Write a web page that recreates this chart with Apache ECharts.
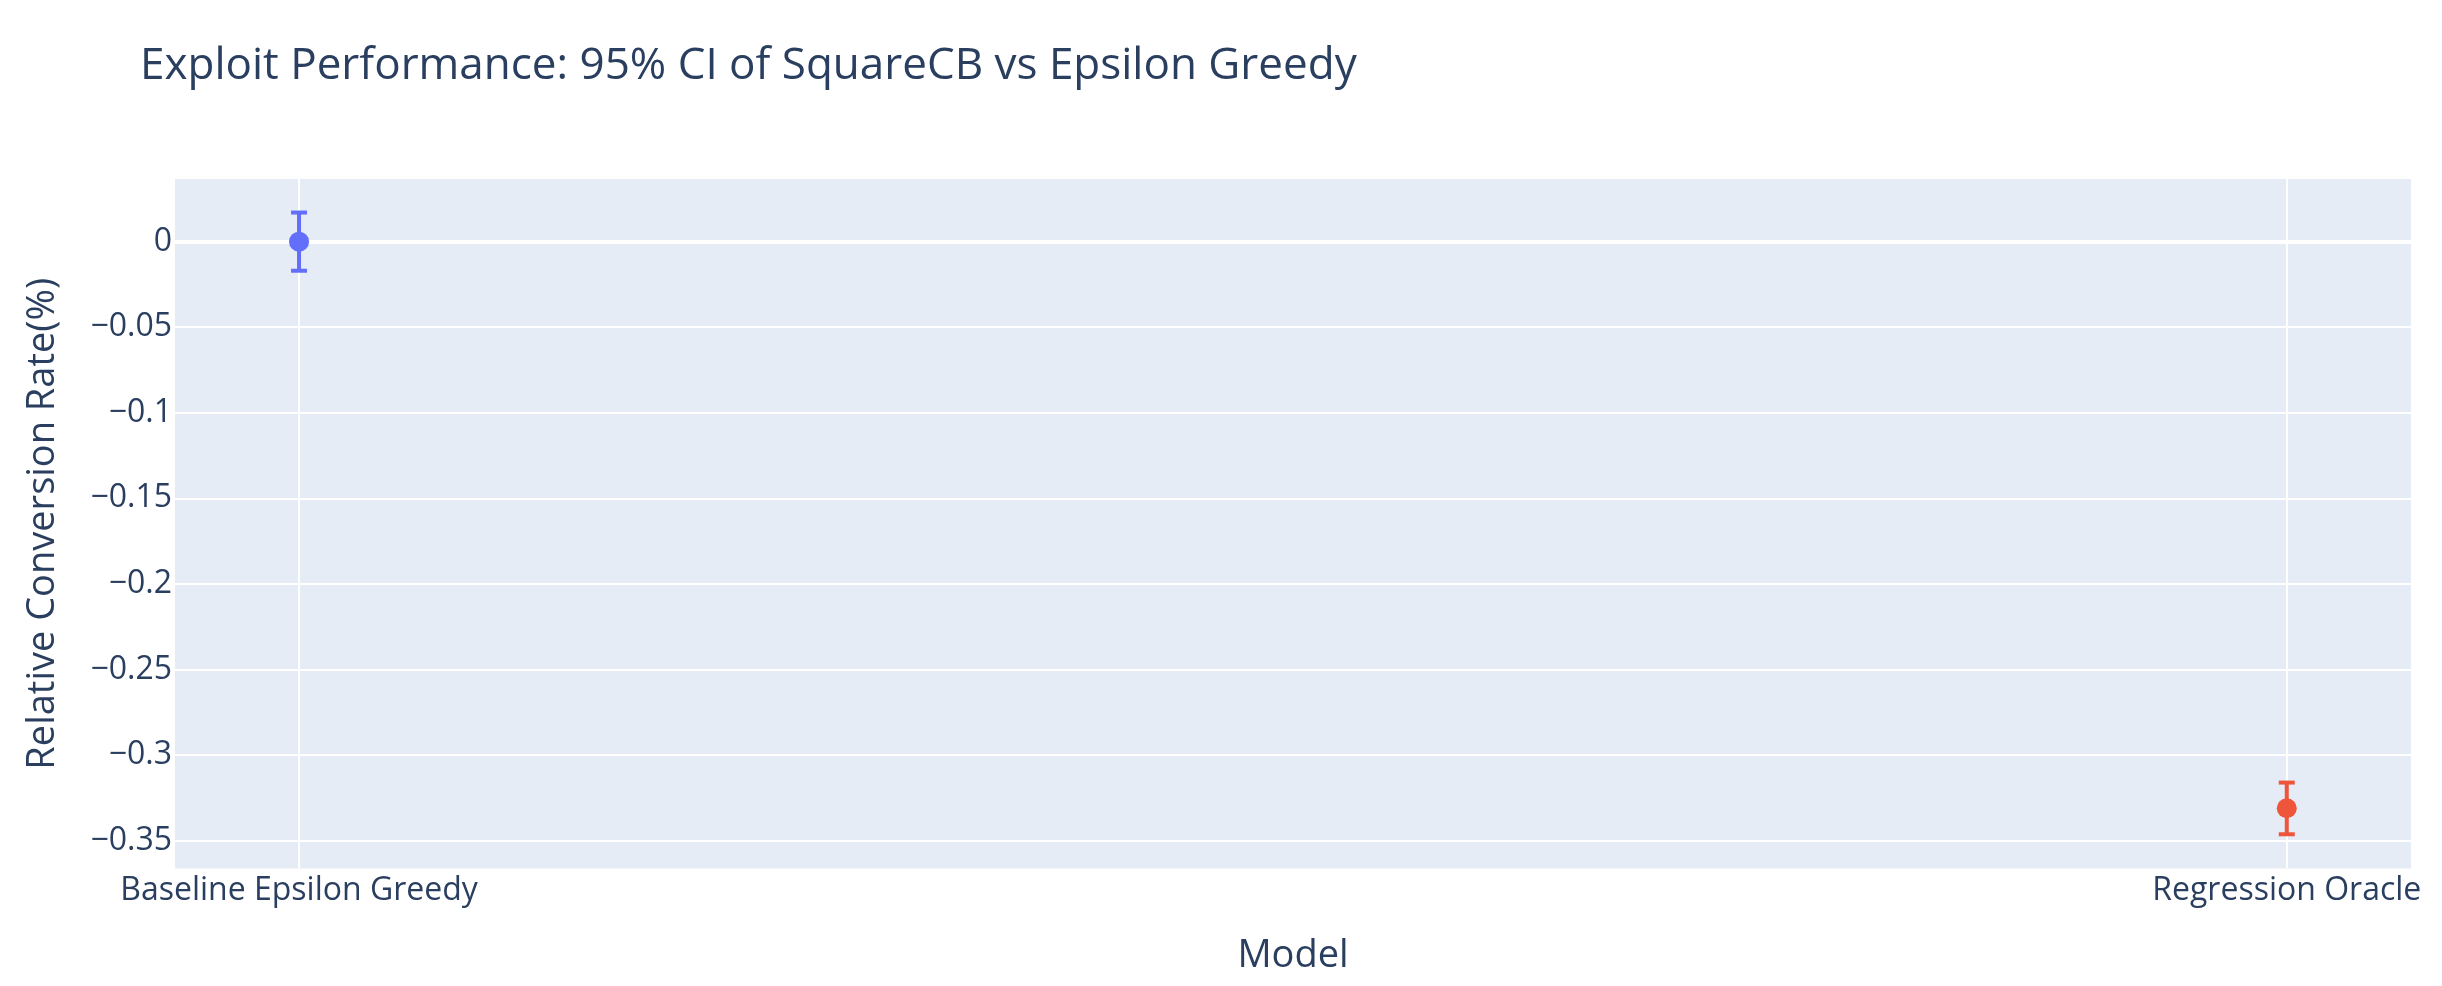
<!DOCTYPE html>
<html lang="en">
<head>
    <meta charset="UTF-8">
    <title>Exploit Performance</title>
    <script src="https://cdn.jsdelivr.net/npm/echarts@6/dist/echarts.min.js"></script>
    <style>
        html, body { margin: 0; padding: 0; background: #fff; }
        #main { width: 2442px; height: 986px; }
    </style>
</head>
<body>
    <div id="main"></div>
    <script type="text/javascript">
        // data
        var categories = ['Baseline Epsilon Greedy', 'Regression Oracle'];
        var meanValues = [0, -0.3311];
        var ciLower = [-0.0170, -0.3463];
        var ciUpper = [0.0170, -0.3161];
        var yTicks = [0, -0.05, -0.1, -0.15, -0.2, -0.25, -0.3, -0.35];
        var yTickLabels = ['0', '\u22120.05', '\u22120.1', '\u22120.15', '\u22120.2', '\u22120.25', '\u22120.3', '\u22120.35'];
        var xTicks = [0, 1];

        var pointColors = ['#636EFA', '#EF553B'];
        var textColor = '#2a3f5f';
        var fontFamily = '"Open Sans", "Noto Sans", sans-serif';

        var myChart = echarts.init(document.getElementById('main'));

        // grid lines drawn as markLines so they sit exactly on the tick values
        var gridLines = [];
        yTicks.forEach(function (v) {
            gridLines.push({ yAxis: v, lineStyle: { width: v === 0 ? 4 : 2 } });
        });
        xTicks.forEach(function (v) {
            gridLines.push({ xAxis: v, lineStyle: { width: 2 } });
        });

        var option = {
            animation: false,
            title: {
                text: 'Exploit Performance: 95% CI of SquareCB vs Epsilon Greedy',
                left: 140,
                top: 44,
                padding: 0,
                textStyle: {
                    fontFamily: fontFamily,
                    fontSize: 44,
                    fontWeight: 'normal',
                    color: textColor
                }
            },
            grid: {
                left: 175,
                right: 31,
                top: 179,
                bottom: 117.5,
                show: true,
                backgroundColor: '#E5ECF6',
                borderWidth: 0
            },
            xAxis: {
                type: 'value',
                min: -0.0624,
                max: 1.0625,
                name: 'Model',
                nameLocation: 'middle',
                nameGap: 69,
                nameTextStyle: { fontFamily: fontFamily, fontSize: 38, color: textColor },
                axisLine: { show: false },
                axisTick: { show: false },
                splitLine: { show: false },
                axisLabel: {
                    customValues: xTicks,
                    formatter: function (v) { return categories[Math.round(v)]; },
                    fontFamily: fontFamily,
                    fontSize: 32,
                    color: textColor,
                    margin: 6
                }
            },
            yAxis: {
                type: 'value',
                min: -0.3663,
                max: 0.0366,
                name: 'Relative Conversion Rate(%)',
                nameLocation: 'middle',
                nameGap: 113,
                nameTextStyle: { fontFamily: fontFamily, fontSize: 38, color: textColor },
                axisLine: { show: false },
                axisTick: { show: false },
                splitLine: { show: false },
                axisLabel: {
                    customValues: yTicks,
                    formatter: function (v) {
                        var i = yTicks.findIndex(function (t) { return Math.abs(t - v) < 1e-9; });
                        return i >= 0 ? yTickLabels[i] : '';
                    },
                    fontFamily: fontFamily,
                    fontSize: 32,
                    color: textColor,
                    margin: 3
                }
            },
            series: [
                {
                    name: 'grid',
                    type: 'scatter',
                    data: [],
                    z: 1,
                    silent: true,
                    markLine: {
                        z: 1,
                        silent: true,
                        symbol: 'none',
                        label: { show: false },
                        lineStyle: { color: '#ffffff', type: 'solid' },
                        data: gridLines
                    }
                },
                {
                    name: 'ci',
                    type: 'custom',
                    z: 6,
                    encode: { x: 0, y: [1, 2] },
                    data: categories.map(function (c, i) { return [i, ciLower[i], ciUpper[i]]; }),
                    renderItem: function (params, api) {
                        var x = api.value(0);
                        var lo = api.coord([x, api.value(1)]);
                        var hi = api.coord([x, api.value(2)]);
                        var half = 8;
                        var style = { stroke: pointColors[params.dataIndex], lineWidth: 4 };
                        return {
                            type: 'group',
                            children: [
                                { type: 'line', shape: { x1: lo[0], y1: lo[1], x2: hi[0], y2: hi[1] }, style: style },
                                { type: 'line', shape: { x1: lo[0] - half, y1: lo[1], x2: lo[0] + half, y2: lo[1] }, style: style },
                                { type: 'line', shape: { x1: hi[0] - half, y1: hi[1], x2: hi[0] + half, y2: hi[1] }, style: style }
                            ]
                        };
                    }
                },
                {
                    name: 'mean',
                    type: 'scatter',
                    z: 7,
                    symbol: 'circle',
                    symbolSize: 20,
                    data: categories.map(function (c, i) {
                        return { value: [i, meanValues[i]], itemStyle: { color: pointColors[i], opacity: 1 } };
                    })
                }
            ]
        };

        myChart.setOption(option);
    </script>
</body>
</html>
